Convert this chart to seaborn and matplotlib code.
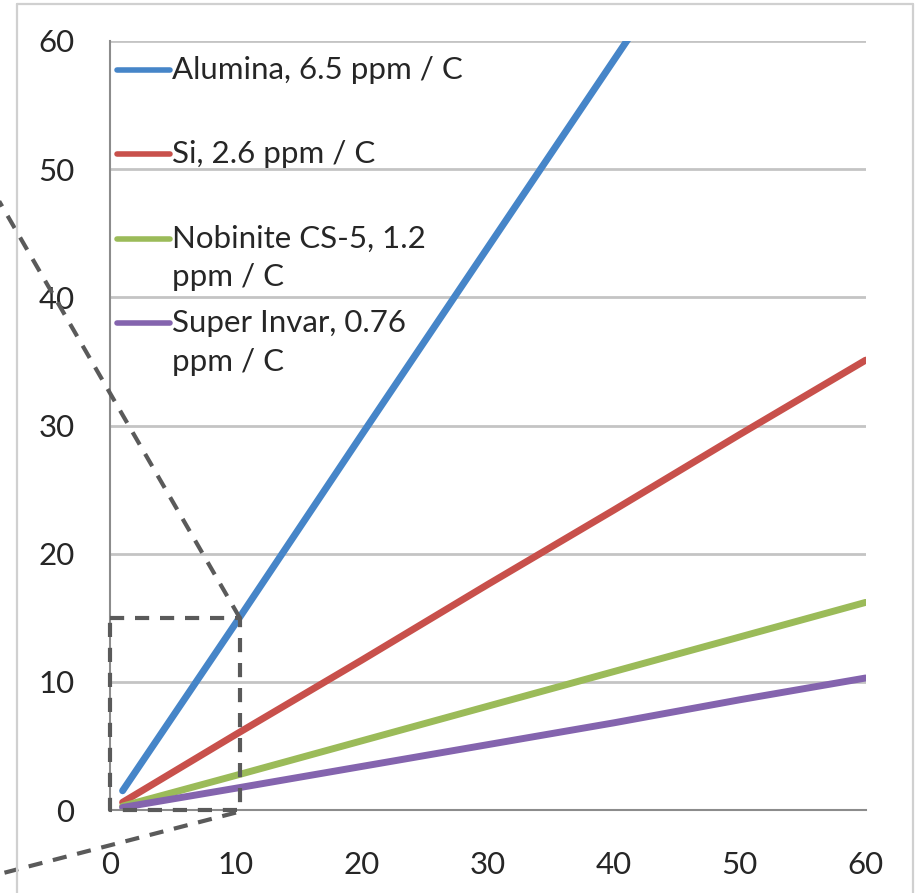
import numpy as np
import pandas as pd
import matplotlib
matplotlib.use("Agg")
import matplotlib.pyplot as plt
from matplotlib.lines import Line2D
import seaborn as sns

# ---------------- data ----------------
x_vals = [1, 10, 20, 30, 40, 50, 60]
alumina = [1.5, 14.6, 29.3, 43.9, 58.5, 73.1, 87.8]
silicon = [0.6, 5.9, 11.7, 17.6, 23.4, 29.3, 35.1]
nobinite = [0.3, 2.7, 5.4, 8.1, 10.8, 13.5, 16.2]
super_invar = [0.2, 1.7, 3.4, 5.1, 6.8, 8.6, 10.3]

series_names = ["Alumina, 6.5 ppm / C", "Si, 2.6 ppm / C",
                "Nobinite CS-5, 1.2 ppm / C", "Super Invar, 0.76 ppm / C"]
legend_labels = ["Alumina, 6.5 ppm / C\n", "Si, 2.6 ppm / C\n",
                 "Nobinite CS-5, 1.2\nppm / C", "Super Invar, 0.76\nppm / C"]
series_values = [alumina, silicon, nobinite, super_invar]
colors = ["#4685C8", "#C8504B", "#9BBB59", "#8464AE"]

ticks = [0, 10, 20, 30, 40, 50, 60]
tick_labels = ["0", "10", "20", "30", "40", "50", "60"]

# zoom-box annotation (data units)
zoom_box_x = [0, 10.3, 10.3, 0, 0]
zoom_box_y = [15, 15, 0, 0, 15]
zoom_upper_x = [10.3, -8.8]
zoom_upper_y = [15, 47.5]
zoom_lower_x = [10.0, -8.8]
zoom_lower_y = [-0.2, -5.0]

# ---------------- style ----------------
sns.set_theme(style="white")
plt.rcParams["font.family"] = ["Lato", "DejaVu Sans"]

W, H = 916, 893
fig = plt.figure(figsize=(W / 100, H / 100), dpi=100)
ax_left, ax_right, ax_top, ax_bottom = 110, 865.7, 41, 810
ax = fig.add_axes([ax_left / W, 1 - ax_bottom / H,
                   (ax_right - ax_left) / W, (ax_bottom - ax_top) / H])

df = pd.DataFrame({
    "x": np.tile(x_vals, len(series_names)),
    "y": np.concatenate(series_values),
    "series": np.repeat(series_names, len(x_vals)),
})

for name, col in zip(series_names, colors):
    sub = df[df["series"] == name]
    sns.lineplot(data=sub, x="x", y="y", color=col, lw=5.0, ax=ax,
                 label=name, solid_capstyle="round", errorbar=None)

ax.set_xlim(0, 60)
ax.set_ylim(0, 60)
ax.set_xticks(ticks)
ax.set_xticklabels(tick_labels)
ax.set_yticks(ticks)
ax.set_yticklabels(tick_labels)
ax.set_xlabel("")
ax.set_ylabel("")

grid_col = "#C4C4C4"
axis_col = "#8C8C8C"
ax.yaxis.grid(True, color=grid_col, lw=2.0)
ax.xaxis.grid(False)
ax.set_axisbelow(True)
for s in ["top", "right"]:
    ax.spines[s].set_visible(False)
ax.spines["left"].set_color(axis_col)
ax.spines["left"].set_linewidth(1.5)
ax.spines["bottom"].set_color(axis_col)
ax.spines["bottom"].set_linewidth(1.5)
ax.tick_params(axis="both", which="major", direction="out", length=8.6,
               width=1.1, color=axis_col, labelsize=22.5, labelcolor="#262626")
ax.tick_params(axis="y", pad=17)
ax.tick_params(axis="x", pad=21)

# dashed zoom annotation
dash_kw = dict(color="#5A5A5A", lw=3.0, linestyle=(0, (3.4, 2.6)),
               clip_on=False, zorder=5, dash_capstyle="butt")
ax.plot(zoom_box_x, zoom_box_y, **dash_kw)
ax.plot(zoom_upper_x, zoom_upper_y, **dash_kw)
ax.plot(zoom_lower_x, zoom_lower_y, **dash_kw)

# legend
handles, _ = ax.get_legend_handles_labels()
leg = ax.legend(handles, legend_labels, loc="upper left",
                bbox_to_anchor=(7 / (ax_right - ax_left), 1 - 15 / (ax_bottom - ax_top)),
                frameon=False, fontsize=22.5, handlelength=1.7,
                handletextpad=0.06, labelspacing=0.58, borderpad=0,
                borderaxespad=0)
for t in leg.get_texts():
    t.set_linespacing(1.45)
    t.set_color("#262626")
shift_pt = 14.3
for h in leg.legend_handles:
    h.set_linewidth(4.0)
    h.set_ydata(np.asarray(h.get_ydata()) + shift_pt)

# outer frame
frame_col = "#D0D0D0"
fig.add_artist(Line2D([17 / W, 913 / W], [1 - 4 / H, 1 - 4 / H],
                      transform=fig.transFigure, color=frame_col, lw=1.6))
fig.add_artist(Line2D([17 / W, 17 / W], [0, 1 - 4 / H],
                      transform=fig.transFigure, color=frame_col, lw=1.6))
fig.add_artist(Line2D([913 / W, 913 / W], [0, 1 - 4 / H],
                      transform=fig.transFigure, color=frame_col, lw=1.6))

fig.savefig("out.png", dpi=100)
